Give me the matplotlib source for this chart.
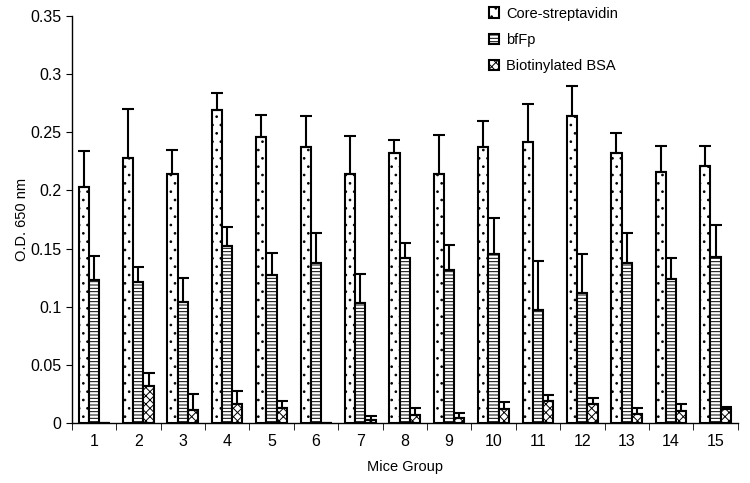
import numpy as np
from matplotlib import pyplot as plt
from matplotlib.ticker import FixedLocator

plt.rcParams['font.family'] = ['Liberation Sans', 'DejaVu Sans']
plt.rcParams['hatch.linewidth'] = 0.7

groups = [str(i) for i in range(1, 16)]

core = [0.203, 0.228, 0.214, 0.269, 0.246, 0.237, 0.214, 0.232, 0.214, 0.237, 0.242, 0.264, 0.232, 0.216, 0.221]
core_err = [0.031, 0.042, 0.021, 0.015, 0.019, 0.027, 0.033, 0.011, 0.034, 0.023, 0.032, 0.026, 0.017, 0.022, 0.017]

bffp = [0.123, 0.121, 0.104, 0.152, 0.127, 0.138, 0.103, 0.142, 0.132, 0.145, 0.097, 0.112, 0.138, 0.124, 0.143]
bffp_err = [0.021, 0.013, 0.021, 0.017, 0.019, 0.025, 0.025, 0.013, 0.021, 0.031, 0.042, 0.033, 0.025, 0.018, 0.027]

bsa = [0.0, 0.032, 0.011, 0.016, 0.013, 0.0, 0.003, 0.007, 0.004, 0.012, 0.019, 0.016, 0.008, 0.010, 0.012]
bsa_err = [0.0, 0.011, 0.014, 0.012, 0.006, 0.0, 0.003, 0.006, 0.005, 0.006, 0.005, 0.006, 0.005, 0.006, 0.002]

fig = plt.figure(figsize=(7.5, 4.83), dpi=100)
ax = fig.add_axes([0.0956, 0.124, 0.888, 0.843])

x = np.arange(len(groups))
w = 0.23
series = [
    (core, core_err, "Core-streptavidin", ".."),
    (bffp, bffp_err, "bfFp", "-----"),
    (bsa, bsa_err, "Biotinylated BSA", "xxxx"),
]
for k, (vals, errs, name, hatch) in enumerate(series):
    pos = x + (k - 1) * w
    ax.bar(pos, vals, w, color="white", edgecolor="black", linewidth=1.5,
           hatch=hatch, label=name, zorder=2)
    ax.errorbar(pos, vals, yerr=[np.zeros(len(errs)), errs], fmt="none",
                ecolor="black", elinewidth=1.5, capsize=4, capthick=1.5, zorder=3)

ax.set_xlim(-0.5, len(groups) - 0.5)
ax.set_ylim(0, 0.35)
ax.set_yticks(np.arange(0, 0.351, 0.05))
ax.set_yticklabels(["0", "0.05", "0.1", "0.15", "0.2", "0.25", "0.3", "0.35"])
ax.set_xticks(x)
ax.set_xticklabels(groups)
ax.tick_params(axis="x", which="major", length=0, pad=8)
ax.xaxis.set_minor_locator(FixedLocator(np.arange(-0.5, len(groups), 1.0)))
ax.tick_params(axis="x", which="minor", length=5, direction="out")
ax.tick_params(axis="y", length=4, direction="out")
ax.tick_params(labelsize=11.5)

for s in ["top", "right"]:
    ax.spines[s].set_visible(False)
ax.spines["left"].set_linewidth(1.0)
ax.spines["bottom"].set_linewidth(1.0)

ax.set_ylabel("O.D. 650 nm", fontsize=10.5, labelpad=0.5)
ax.set_xlabel("Mice Group", fontsize=10.5, labelpad=8)

leg = ax.legend(loc="upper left", bbox_to_anchor=(0.607, 1.055), frameon=False,
                fontsize=10.5, handlelength=0.7, handleheight=0.7,
                handletextpad=0.45, labelspacing=0.85)

plt.savefig("out.png")
